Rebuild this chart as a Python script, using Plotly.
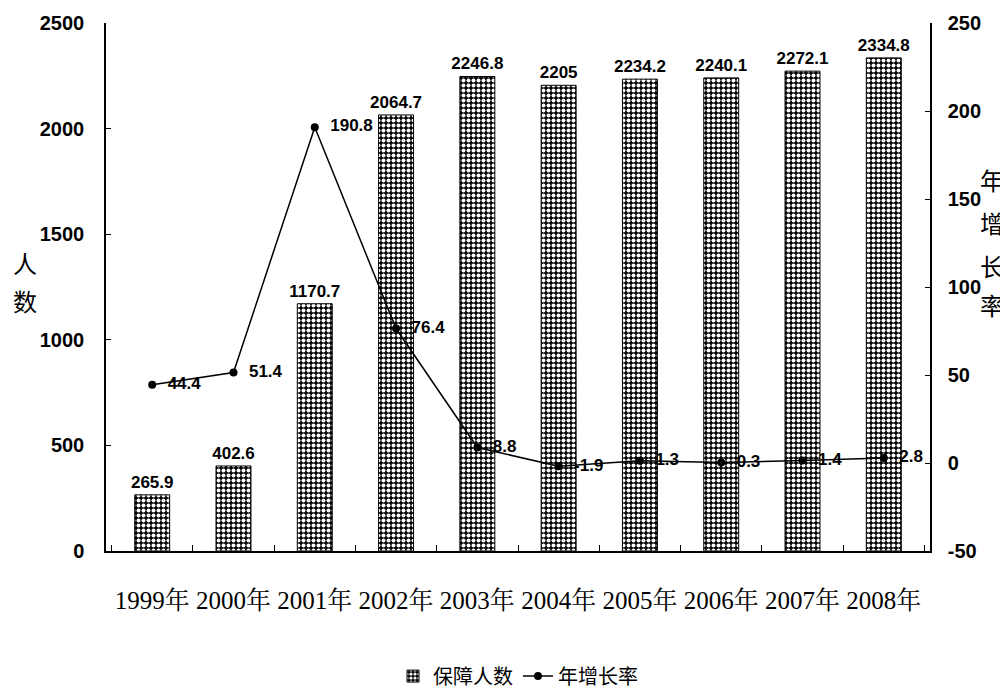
import plotly.graph_objects as go

years = ["1999年", "2000年", "2001年", "2002年", "2003年", "2004年", "2005年", "2006年", "2007年", "2008年"]
people = [265.9, 402.6, 1170.7, 2064.7, 2246.8, 2205, 2234.2, 2240.1, 2272.1, 2334.8]
growth = [44.4, 51.4, 190.8, 76.4, 8.8, -1.9, 1.3, 0.3, 1.4, 2.8]
people_labels = ["265.9", "402.6", "1170.7", "2064.7", "2246.8", "2205", "2234.2", "2240.1", "2272.1", "2334.8"]
growth_labels = ["44.4", "51.4", "190.8", "76.4", "8.8", "-1.9", "1.3", "0.3", "1.4", "2.8"]
left_ticks = [0, 500, 1000, 1500, 2000, 2500]
right_ticks = [-50, 0, 50, 100, 150, 200, 250]
left_title = ["人", "数"]
right_title = ["年", "增", "长", "率"]

bold = "Liberation Sans, Arial, sans-serif"
cjk = "Noto Sans CJK SC, sans-serif"

fig = go.Figure()
fig.add_trace(go.Bar(
    x=years, y=people, name="保障人数", width=0.43,
    marker=dict(color="black", line=dict(color="black", width=1),
                pattern=dict(shape=".", fgcolor="white", bgcolor="black", size=5, solidity=0.5, fillmode="replace")),
    text=["<b>%s</b>" % t for t in people_labels], textposition="outside", cliponaxis=False,
    constraintext="none",
    textfont=dict(family=bold, size=17, color="black"),
))
fig.add_trace(go.Scatter(
    x=years, y=growth, name="年增长率", yaxis="y2", mode="lines+markers+text",
    line=dict(color="black", width=1.5), marker=dict(color="black", size=8),
    text=["\u00a0\u00a0<b>%s</b>" % t for t in growth_labels], textposition="middle right", cliponaxis=False,
    textfont=dict(family=bold, size=17, color="black"),
))

fig.update_layout(
    width=1008, height=699,
    margin=dict(l=98, r=86, t=15, b=156, autoexpand=False),
    paper_bgcolor="white", plot_bgcolor="white",
    showlegend=True,
    legend=dict(orientation="h", x=0.5, xanchor="center", y=-0.2, yanchor="top",
                font=dict(family=cjk, size=20, color="black")),
    xaxis=dict(tickfont=dict(family="Liberation Serif, Noto Serif CJK SC, Noto Sans CJK SC, serif", size=25, color="black"),
               showline=True, linecolor="black", linewidth=1.5, ticks="inside", tickson="boundaries",
               ticklen=6, tickcolor="black", tickangle=0, ticklabelstandoff=26, automargin=False),
    yaxis=dict(range=[0, 2500], tickvals=left_ticks, ticktext=["<b>%d</b>" % v for v in left_ticks],
               showgrid=False, zeroline=False, ticklabelstandoff=16, automargin=False,
               showline=True, linecolor="black", linewidth=1.5, ticks="inside", ticklen=5, tickcolor="black",
               tickfont=dict(family=bold, size=20, color="black")),
    yaxis2=dict(range=[-50, 250], tickvals=right_ticks, ticktext=["<b>%d</b>" % v for v in right_ticks],
                overlaying="y", side="right", showgrid=False, ticklabelstandoff=12, automargin=False,
                zeroline=False, showline=True, linecolor="black", linewidth=1.5, ticks="inside", ticklen=5,
                tickcolor="black",
                tickfont=dict(family=bold, size=20, color="black")),
)
for ch, yy in zip(left_title, [0.547, 0.475]):
    fig.add_annotation(text=ch, xref="paper", yref="paper", x=-0.098, xanchor="center",
                       y=yy, yanchor="middle", showarrow=False,
                       font=dict(family=cjk, size=24, color="black"))
for ch, yy in zip(right_title, [0.703, 0.623, 0.54, 0.466]):
    fig.add_annotation(text=ch, xref="paper", yref="paper", x=1.075, xanchor="center",
                       y=yy, yanchor="middle", showarrow=False,
                       font=dict(family=cjk, size=24, color="black"))
fig.write_html("out.html")
